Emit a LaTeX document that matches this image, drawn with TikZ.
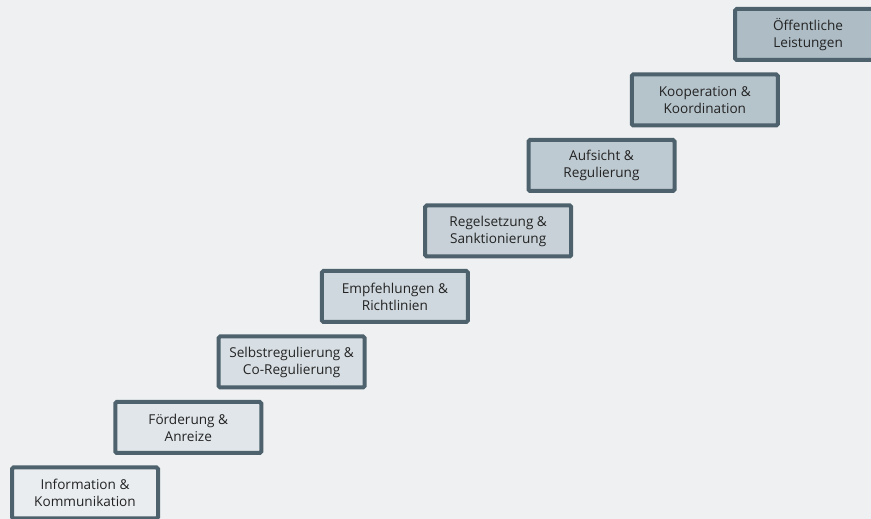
\documentclass[tikz,border=0pt]{standalone}
\usepackage{fontspec}
\setmainfont{Open Sans}
\usetikzlibrary{positioning}
\definecolor{pagebg}{RGB}{238,240,242}
\definecolor{stepframe}{RGB}{77,98,109}
\definecolor{steplight}{RGB}{233,237,240}
\definecolor{stepdark}{RGB}{173,188,197}
\definecolor{steptext}{RGB}{35,35,35}

\begin{document}
\begin{tikzpicture}[
    x=1pt, y=1pt,
    stepbox/.style={rectangle,rounded corners=1.5pt,draw=stepframe,line width=4pt,
      minimum width=146pt,minimum height=51pt,inner sep=0pt,outer sep=0pt,
      align=center,text=steptext,font=\fontsize{13.6}{17}\selectfont},
    climb/.style={above right=14.5pt and -42.7pt of #1}
  ]
    \clip (0,0) rectangle (871,519);
    \fill[pagebg] (0,0) rectangle (871,519);

    % staircase, bottom to top
    \node[stepbox,fill=steplight] (info) at (85,26) {Information \&\\Kommunikation};
    \node[stepbox,fill=stepdark!14!steplight,climb=info] (foerderung) {Förderung \&\\Anreize};
    \node[stepbox,fill=stepdark!29!steplight,climb=foerderung] (selbst) {Selbstregulierung \&\\Co-Regulierung};
    \node[stepbox,fill=stepdark!43!steplight,climb=selbst] (empf) {Empfehlungen \&\\Richtlinien};
    \node[stepbox,fill=stepdark!57!steplight,climb=empf] (regel) {Regelsetzung \&\\Sanktionierung};
    \node[stepbox,fill=stepdark!71!steplight,climb=regel] (aufsicht) {Aufsicht \&\\Regulierung};
    \node[stepbox,fill=stepdark!86!steplight,climb=aufsicht] (koop) {Kooperation \&\\Koordination};
    \node[stepbox,fill=stepdark,climb=koop] (oeff) {Öffentliche\\Leistungen};
  \end{tikzpicture}
\end{document}
